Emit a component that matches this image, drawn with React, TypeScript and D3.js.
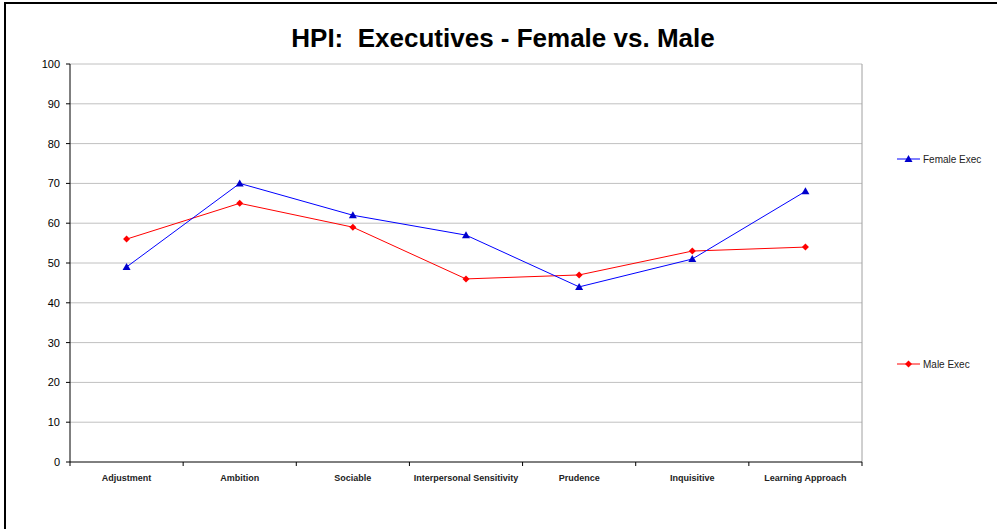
import React from "react";
import * as d3 from "d3";

const categories = ["Adjustment", "Ambition", "Sociable", "Interpersonal Sensitivity", "Prudence", "Inquisitive", "Learning Approach"];
const femaleExec = [49, 70, 62, 57, 44, 51, 68];
const maleExec = [56, 65, 59, 46, 47, 53, 54];
const yTicks = [0, 10, 20, 30, 40, 50, 60, 70, 80, 90, 100];

const W = 997, H = 529;
const plot = { left: 70, top: 64, right: 862, bottom: 462 };

export default function App() {
  const x = d3.scaleBand<string>().domain(categories).range([plot.left, plot.right]);
  const y = d3.scaleLinear().domain([0, 100]).range([plot.bottom, plot.top]);
  const cx = (c: string) => (x(c) as number) + x.bandwidth() / 2;
  const line = d3.line<number>().x((_, i) => cx(categories[i])).y((d) => y(d));
  const font = "Arial, 'Liberation Sans', sans-serif";
  const tri = (px: number, py: number, s = 4) => `M${px},${py - s} L${px + s},${py + s * 0.75} L${px - s},${py + s * 0.75} Z`;
  const dia = (px: number, py: number, s = 3.5) => `M${px},${py - s} L${px + s},${py} L${px},${py + s} L${px - s},${py} Z`;
  const edges = [...categories.map((c) => x(c) as number), plot.right];
  return (
    <svg width={W} height={H} style={{ position: "absolute", left: 0, top: 0, background: "#fff" }} fontFamily={font}>
      <rect x={0} y={0} width={W} height={H} fill="#fff" />
      <rect x={5} y={3} width={W + 10} height={H + 10} fill="none" stroke="#000" strokeWidth={2} />
      <text x={503} y={47} textAnchor="middle" fontSize={26} fontWeight="bold" style={{ whiteSpace: "pre" }}>{"HPI:  Executives - Female vs. Male"}</text>
      {yTicks.map((t) => (
        <g key={t}>
          {t > 0 && <line x1={plot.left} x2={plot.right} y1={y(t)} y2={y(t)} stroke="#c0c0c0" strokeWidth={1} />}
          <line x1={plot.left - 4} x2={plot.left} y1={y(t)} y2={y(t)} stroke="#000" />
          <text x={plot.left - 10} y={y(t) + 4} textAnchor="end" fontSize={11}>{t}</text>
        </g>
      ))}
      <line x1={plot.right} x2={plot.right} y1={plot.top} y2={plot.bottom} stroke="#a0a0a0" />
      <line x1={plot.left} x2={plot.left} y1={plot.top} y2={plot.bottom} stroke="#000" />
      <line x1={plot.left} x2={plot.right} y1={plot.bottom} y2={plot.bottom} stroke="#000" />
      {edges.map((e, i) => (
        <line key={i} x1={e} x2={e} y1={plot.bottom} y2={plot.bottom + 4} stroke="#000" />
      ))}
      {categories.map((c) => (
        <text key={c} x={cx(c)} y={481} textAnchor="middle" fontSize={9} fontWeight="bold" fill="#222">{c}</text>
      ))}
      <path d={line(maleExec) || ""} fill="none" stroke="#ff0000" strokeWidth={1} />
      <path d={line(femaleExec) || ""} fill="none" stroke="#0000ff" strokeWidth={1} />
      {maleExec.map((v, i) => <path key={i} d={dia(cx(categories[i]), y(v))} fill="#ff0000" />)}
      {femaleExec.map((v, i) => <path key={i} d={tri(cx(categories[i]), y(v))} fill="#0000cc" />)}
      <line x1={897} x2={920} y1={159} y2={159} stroke="#0000ff" />
      <path d={tri(908.5, 159)} fill="#0000cc" />
      <text x={923} y={163} fontSize={10} fill="#222">Female Exec</text>
      <line x1={897} x2={920} y1={364} y2={364} stroke="#ff0000" />
      <path d={dia(908.5, 364)} fill="#ff0000" />
      <text x={923} y={368} fontSize={10} fill="#222">Male Exec</text>
    </svg>
  );
}
